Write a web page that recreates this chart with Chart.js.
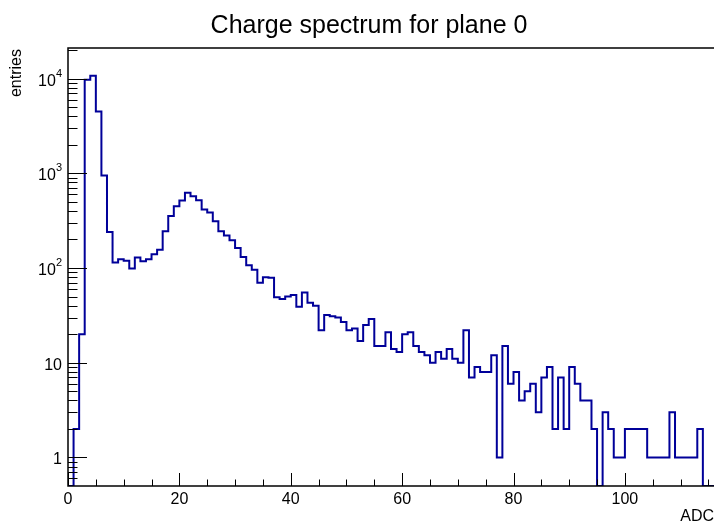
<!DOCTYPE html>
<html><head><meta charset="utf-8">
<script src="https://cdn.jsdelivr.net/npm/chart.js@4/dist/chart.umd.min.js"></script>
<style>html,body{margin:0;padding:0;background:#fff;overflow:hidden}canvas{display:block}</style>
</head><body>
<canvas id="c" width="714" height="523"></canvas>
<script>
const chartTitle = "Charge spectrum for plane 0";
const xTitle = "ADC";
const yTitle = "entries";
// bin contents, bins of width 1 ADC starting at 0
const counts = [
  0, 2, 20, 9700, 10700, 4500, 950, 240, 114, 124,
  119, 99, 129, 118, 124, 140, 156, 244, 354, 449,
  515, 622, 571, 519, 414, 385, 311, 244, 221, 196,
  163, 131, 107, 96, 70, 80, 79, 49, 47, 50,
  52, 39, 55, 43, 40, 22, 32, 31, 30, 27,
  22, 23, 17, 25, 29, 15, 15, 21, 14, 13,
  20, 21, 15, 13, 12, 10, 13, 11, 14, 11,
  10, 22, 7, 9, 8, 8, 12, 1, 15, 6,
  8, 4, 5, 6, 3, 7, 9, 2, 7, 2,
  9, 6, 4, 4, 2, 0, 3, 2, 1, 1,
  2, 2, 2, 2, 1, 1, 1, 1, 3, 1,
  1, 1, 1, 2, 0, 0
];
const xRange = [0, 116];
const yRange = [0.5, 21000];
const xMajorTicks = [0, 20, 40, 60, 80, 100];
const xMajorLabels = ["0", "20", "40", "60", "80", "100"];
const xMinorTicks = [5, 10, 15, 25, 30, 35, 45, 50, 55, 65, 70, 75, 85, 90, 95, 105, 110, 115];
const yMajorTicks = [1, 10, 100, 1000, 10000];
const yMajorLabels = [["1", ""], ["10", ""], ["10", "2"], ["10", "3"], ["10", "4"]];
const yMinorTicks = [0.6, 0.7, 0.8, 0.9, 2, 3, 4, 5, 6, 7, 8, 9, 20, 30, 40, 50, 60, 70, 80, 90,
  200, 300, 400, 500, 600, 700, 800, 900, 2000, 3000, 4000, 5000, 6000, 7000, 8000, 9000, 20000];

// empty bins are drawn on the bottom of the frame, as ROOT does
const pts = counts.map((v, i) => ({x: i, y: v > 0 ? v : yRange[0]}));
pts.push({x: counts.length, y: counts[counts.length - 1] > 0 ? counts[counts.length - 1] : yRange[0]});

const FONT = '"Liberation Sans", Arial, Helvetica, sans-serif';

const rootAxes = {
  id: 'rootAxes',
  afterDraw(chart) {
    const ctx = chart.ctx, a = chart.chartArea;
    const xs = chart.scales.x, ys = chart.scales.y;
    ctx.save();
    ctx.strokeStyle = '#000';
    ctx.lineWidth = 1.5;
    ctx.strokeRect(a.left, a.top, a.right - a.left + 2, a.bottom - a.top);
    ctx.lineWidth = 1;
    const xMajLen = 13, xMinLen = 6.5, yMajLen = 19, yMinLen = 9.5;
    ctx.beginPath();
    xMajorTicks.forEach(t => { const p = Math.round(xs.getPixelForValue(t)) + 0.5; ctx.moveTo(p, a.bottom); ctx.lineTo(p, a.bottom - xMajLen); });
    xMinorTicks.forEach(t => { const p = Math.round(xs.getPixelForValue(t)) + 0.5; ctx.moveTo(p, a.bottom); ctx.lineTo(p, a.bottom - xMinLen); });
    yMajorTicks.forEach(t => { const p = Math.round(ys.getPixelForValue(t)) + 0.5; ctx.moveTo(a.left, p); ctx.lineTo(a.left + yMajLen, p); });
    yMinorTicks.forEach(t => { if (t < yRange[0] || t > yRange[1]) return; const p = Math.round(ys.getPixelForValue(t)) + 0.5; ctx.moveTo(a.left, p); ctx.lineTo(a.left + yMinLen, p); });
    ctx.stroke();

    ctx.fillStyle = '#000';
    // x labels
    ctx.font = '16px ' + FONT;
    ctx.textAlign = 'center';
    ctx.textBaseline = 'alphabetic';
    xMajorTicks.forEach((t, i) => ctx.fillText(xMajorLabels[i], xs.getPixelForValue(t), 504));
    // y labels
    yMajorTicks.forEach((t, i) => {
      const p = ys.getPixelForValue(t);
      const [base, sup] = yMajorLabels[i];
      ctx.font = '16px ' + FONT;
      const wb = ctx.measureText(base).width;
      ctx.font = '11px ' + FONT;
      const ws = sup ? ctx.measureText(sup).width : 0;
      const right = 62;
      ctx.textAlign = 'left';
      ctx.font = '16px ' + FONT;
      ctx.fillText(base, right - wb - ws, p + 7);
      if (sup) { ctx.font = '11px ' + FONT; ctx.fillText(sup, right - ws, p - 2); }
    });
    // axis titles
    ctx.font = '16px ' + FONT;
    ctx.textAlign = 'right';
    ctx.fillText(xTitle, 714, 521);
    ctx.save();
    ctx.translate(21, a.top + 1);
    ctx.rotate(-Math.PI / 2);
    ctx.textAlign = 'right';
    ctx.fillText(yTitle, 0, 0);
    ctx.restore();
    // title
    ctx.font = '25px ' + FONT;
    ctx.textAlign = 'center';
    ctx.fillText(chartTitle, 369, 33);
    ctx.restore();
  }
};

new Chart(document.getElementById('c'), {
  type: 'line',
  data: { datasets: [{ data: pts, stepped: 'before', borderColor: '#000099', borderWidth: 2, pointRadius: 0, fill: false, tension: 0 }] },
  options: {
    responsive: false, animation: false, devicePixelRatio: 1,
    layout: { padding: { left: 68, top: 48, right: 0, bottom: 37 } },
    plugins: { legend: { display: false }, title: { display: false }, tooltip: { enabled: false } },
    scales: {
      x: { type: 'linear', min: xRange[0], max: xRange[1], display: false },
      y: { type: 'logarithmic', min: yRange[0], max: yRange[1], display: false }
    }
  },
  plugins: [rootAxes]
});
</script>
</body></html>
